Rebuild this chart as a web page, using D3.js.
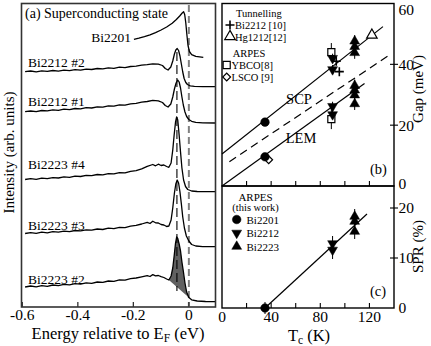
<!DOCTYPE html>
<html lang="en">
<head>
<meta charset="UTF-8">
<title>ARPES spectra, gap and SPR vs Tc</title>
<script src="https://d3js.org/d3.v7.min.js"></script>
<style>
  body { margin: 0; background: #fff; }
  svg { display: block; }
  svg text { font-family: "Liberation Serif", "Times New Roman", "DejaVu Serif", serif; }
</style>
</head>
<body>
<svg width="431" height="346" font-family="Liberation Serif, Times New Roman, DejaVu Serif, serif"></svg>
<script>
// ---------- panel (a): spectra [energy (eV), intensity (arb.)] ----------
const bi2201 = [[-0.198,26.77],[-0.18,26.88],[-0.16,27.04],[-0.14,27.22],[-0.12,27.44],[-0.10,27.70],[-0.08,28.00],
  [-0.06,28.38],[-0.045,28.75],[-0.033,29.10],[-0.024,29.40],[-0.019,29.52],[-0.015,29.25],[-0.011,28.40],
  [-0.007,27.20],[-0.003,26.15],[0.002,25.55],[0.01,25.24],[0.025,25.06],[0.052,24.96]];
const bi2212n2 = [[-0.59,23.53],[-0.57,23.60],[-0.55,23.51],[-0.53,23.62],[-0.51,23.56],[-0.49,23.65],[-0.47,23.58],
  [-0.45,23.68],[-0.43,23.64],[-0.41,23.74],[-0.39,23.69],[-0.37,23.78],[-0.35,23.75],[-0.33,23.85],[-0.31,23.81],
  [-0.29,23.91],[-0.27,23.87],[-0.25,23.98],[-0.23,23.94],[-0.21,24.05],[-0.19,24.09],[-0.17,24.18],[-0.15,24.24],
  [-0.13,24.32],[-0.11,24.28],[-0.095,24.15],[-0.085,23.85],[-0.075,23.70],[-0.065,24.00],[-0.058,24.60],
  [-0.052,25.30],[-0.047,25.70],[-0.042,25.85],[-0.037,25.65],[-0.032,25.10],[-0.027,24.30],[-0.022,23.50],
  [-0.017,22.85],[-0.011,22.45],[-0.005,22.25],[0.005,22.12],[0.02,22.06],[0.05,22.03],[0.095,22.03]];
const bi2212n1 = [[-0.59,19.53],[-0.57,19.60],[-0.55,19.54],[-0.53,19.65],[-0.51,19.61],[-0.49,19.71],[-0.47,19.67],
  [-0.45,19.78],[-0.43,19.74],[-0.41,19.85],[-0.39,19.81],[-0.37,19.93],[-0.35,19.90],[-0.33,20.02],[-0.31,19.99],
  [-0.29,20.11],[-0.27,20.08],[-0.25,20.21],[-0.23,20.19],[-0.21,20.32],[-0.19,20.37],[-0.17,20.48],[-0.15,20.55],
  [-0.13,20.66],[-0.11,20.62],[-0.095,20.45],[-0.085,20.15],[-0.075,20.00],[-0.065,20.30],[-0.058,21.00],
  [-0.052,21.80],[-0.046,22.40],[-0.040,22.70],[-0.035,22.50],[-0.030,21.90],[-0.025,21.00],[-0.020,20.20],
  [-0.014,19.50],[-0.008,19.05],[0.0,18.75],[0.01,18.57],[0.025,18.46],[0.05,18.42],[0.095,18.40]];
const bi2223n4 = [[-0.59,12.75],[-0.57,12.84],[-0.55,12.77],[-0.53,12.88],[-0.51,12.83],[-0.49,12.94],[-0.47,12.90],
  [-0.45,13.01],[-0.43,12.97],[-0.41,13.09],[-0.39,13.05],[-0.37,13.16],[-0.35,13.13],[-0.33,13.25],[-0.31,13.21],
  [-0.29,13.33],[-0.27,13.31],[-0.25,13.44],[-0.23,13.41],[-0.21,13.56],[-0.19,13.64],[-0.17,13.82],[-0.15,14.07],
  [-0.13,14.25],[-0.12,14.12],[-0.11,14.28],[-0.10,14.15],[-0.09,14.20],[-0.08,14.05],[-0.072,13.97],[-0.064,14.40],
  [-0.058,15.70],[-0.053,17.20],[-0.048,18.50],[-0.044,19.00],[-0.040,18.70],[-0.035,17.20],[-0.030,15.50],
  [-0.025,13.90],[-0.019,12.70],[-0.012,12.05],[-0.004,11.75],[0.01,11.60],[0.03,11.55],[0.06,11.53],[0.095,11.53]];
const bi2223n3 = [[-0.59,7.35],[-0.57,7.44],[-0.55,7.37],[-0.53,7.48],[-0.51,7.42],[-0.49,7.53],[-0.47,7.48],
  [-0.45,7.58],[-0.43,7.54],[-0.41,7.65],[-0.39,7.61],[-0.37,7.72],[-0.35,7.68],[-0.33,7.80],[-0.31,7.75],
  [-0.29,7.88],[-0.27,7.84],[-0.25,7.97],[-0.23,7.94],[-0.21,8.08],[-0.19,8.16],[-0.17,8.30],[-0.15,8.47],
  [-0.14,8.35],[-0.13,8.58],[-0.12,8.42],[-0.11,8.40],[-0.10,8.25],[-0.09,8.20],[-0.08,8.05],[-0.072,8.10],
  [-0.064,8.70],[-0.058,9.90],[-0.052,11.40],[-0.047,12.30],[-0.042,12.70],[-0.037,12.40],[-0.032,11.50],
  [-0.027,10.30],[-0.022,9.00],[-0.016,7.90],[-0.009,7.10],[0.0,6.60],[0.01,6.25],[0.025,6.10],[0.05,6.04],[0.095,6.03]];
const bi2223n2 = [[-0.59,2.00],[-0.57,2.10],[-0.55,2.02],[-0.53,2.14],[-0.51,2.07],[-0.49,2.20],[-0.47,2.14],
  [-0.45,2.26],[-0.43,2.21],[-0.41,2.33],[-0.39,2.28],[-0.37,2.41],[-0.35,2.37],[-0.33,2.50],[-0.31,2.46],
  [-0.29,2.60],[-0.27,2.57],[-0.25,2.71],[-0.23,2.69],[-0.21,2.83],[-0.19,2.90],[-0.17,3.02],[-0.15,3.14],
  [-0.14,3.05],[-0.13,3.24],[-0.12,3.12],[-0.11,3.15],[-0.10,3.04],[-0.09,2.95],[-0.08,2.80],[-0.072,2.70],
  [-0.064,3.10],[-0.058,3.90],[-0.053,5.10],[-0.048,6.40],[-0.044,7.00],[-0.040,6.85],[-0.035,6.30],[-0.030,5.60],
  [-0.025,4.50],[-0.020,3.60],[-0.014,2.40],[-0.008,1.50],[0.0,0.95],[0.01,0.72],[0.03,0.60],[0.06,0.55],[0.095,0.53]];
const energyTicks = [-0.6, -0.4, -0.2, 0];
const peakEnergy = -0.043;
const fillRange = [-0.072, 0.0];

// ---------- panels (b), (c): [Tc (K), value, error] ----------
const gapBi2201 = [[35, 21.0], [35, 9.6]];
const gapBi2212 = [[90, 42.0, 1.5], [90, 38.3, 1.5], [90, 26.2, 1.5], [90, 23.5, 1.5]];
const gapBi2223 = [[108, 47.6, 2], [108, 45.8, 2], [108, 43.8, 2], [108, 33.0, 2], [108, 31.5, 2], [108, 29.9, 2], [108, 27.0, 2]];
const gapTunBi2212 = [[93, 41.0], [95.5, 37.6]];
const gapTunHg1212 = [[122, 49.6]];
const gapYBCO = [[89, 44.0, 3.0], [89, 22.0, 3.3]];
const gapLSCO = [[38, 8.6]];
const sprBi2201 = [[35, 0, 1.2]];
const sprBi2212 = [[90, 12.9, 1.5], [90, 11.6, 1.8]];
const sprBi2223 = [[108, 18.3, 1.5], [108, 17.3, 1.5], [108, 15.3, 1.5]];
const scpFit = [[0, 10.5], [131, 52.4]];
const midFit = [[6, 8], [136, 43]];
const lemFit = [[0, 0], [116, 33.7]];
const sprFit = [[35, 0], [118, 18.8]];
const tcTicks = [0, 40, 80, 120];
const tcMinor = [20, 40, 60, 80, 100, 120];
const gapTicks = [0, 20, 40, 60];
const sprTicks = [0, 10, 20];

const svg = d3.select("svg");

// ================= panel (a) =================
const xA = d3.scaleLinear().domain([-0.603, 0.096]).range([21.5, 215.5]);
const yA = d3.scaleLinear().domain([0, 30.35]).range([307, 3.5]);
const lineA = d3.line().x(d => xA(d[0])).y(d => yA(d[1]));
const a = svg.append("g");

// shaded peak of Bi2223 #2
const fillPts = bi2223n2.filter(d => d[0] >= fillRange[0] && d[0] <= fillRange[1]);
a.append("path").attr("d", lineA(fillPts) + "Z").attr("fill", "#606060");

// E_F and peak position guides
a.append("line").attr("x1", xA(0)).attr("x2", xA(0)).attr("y1", 5).attr("y2", 306)
  .attr("stroke", "#808080").attr("stroke-width", 2).attr("stroke-dasharray", "7,4");
a.append("line").attr("x1", xA(peakEnergy)).attr("x2", xA(peakEnergy))
  .attr("y1", yA(25.5)).attr("y2", yA(1.6))
  .attr("stroke", "#000").attr("stroke-width", 1.1).attr("stroke-dasharray", "9,4");

const spectra = [
  {name: "Bi2201", data: bi2201},
  {name: "Bi2212 #2", data: bi2212n2, dy: -5},
  {name: "Bi2212 #1", data: bi2212n1, dy: -5.5},
  {name: "Bi2223 #4", data: bi2223n4, dy: -11},
  {name: "Bi2223 #3", data: bi2223n3, dy: -3.5},
  {name: "Bi2223 #2", data: bi2223n2, dy: -3.5}
];
spectra.forEach(s => {
  a.append("path").attr("d", lineA(s.data)).attr("fill", "none")
    .attr("stroke", "#000").attr("stroke-width", 1.3).attr("stroke-linejoin", "round");
  const first = s.data[0];
  if (s.name === "Bi2201") {
    a.append("text").attr("x", xA(first[0]) - 3).attr("y", yA(first[1]) + 3)
      .attr("text-anchor", "end").attr("font-size", 13.5).text(s.name);
  } else {
    a.append("text").attr("x", 28).attr("y", yA(first[1]) + s.dy)
      .attr("font-size", 13.5).text(s.name);
  }
});

a.append("rect").attr("x", 21.5).attr("y", 3.5).attr("width", 194).attr("height", 303.5)
  .attr("fill", "none").attr("stroke", "#333").attr("stroke-width", 1.6);
energyTicks.forEach(v => {
  a.append("line").attr("x1", xA(v)).attr("x2", xA(v)).attr("y1", 307).attr("y2", 302)
    .attr("stroke", "#333").attr("stroke-width", 1.3);
  a.append("text").attr("x", xA(v)).attr("y", 320).attr("text-anchor", "middle")
    .attr("font-size", 15.5).text(v === 0 ? "0" : v.toFixed(1));
});
a.append("text").attr("x", 25).attr("y", 18).attr("font-size", 14).text("(a) Superconducting state");
const xl = a.append("text").attr("x", 118).attr("y", 338.5).attr("text-anchor", "middle").attr("font-size", 16.5);
xl.append("tspan").text("Energy relative to E");
xl.append("tspan").attr("font-size", 11.5).attr("dy", 3).text("F");
xl.append("tspan").attr("dy", -3).text(" (eV)");
a.append("text").attr("transform", "translate(13.5,152.5) rotate(-90)").attr("text-anchor", "middle")
  .attr("font-size", 15).text("Intensity (arb. units)");

// ================= panels (b) and (c) =================
const xT = d3.scaleLinear().domain([0, 140]).range([222, 394]);
const yG = d3.scaleLinear().domain([0, 60]).range([186, 3.5]);
const yS = d3.scaleLinear().domain([0, 24.4]).range([308, 186]);
const b = svg.append("g");

function marker(g, kind, x, y) {
  if (kind === "plus") {
    g.append("path").attr("d", `M${x - 4.5},${y}H${x + 4.5}M${x},${y - 4.5}V${y + 4.5}`)
      .attr("stroke", "#000").attr("stroke-width", 1.6);
    return;
  }
  const def = {
    circle: [d3.symbolCircle, 58, 0, true],
    up: [d3.symbolTriangle, 42, 0, true],
    down: [d3.symbolTriangle, 42, 180, true],
    openUp: [d3.symbolTriangle, 48, 0, false],
    square: [d3.symbolSquare, 50, 0, false],
    diamond: [d3.symbolSquare, 30, 45, false]
  }[kind];
  g.append("path").attr("d", d3.symbol().type(def[0]).size(def[1])())
    .attr("transform", `translate(${x},${y}) rotate(${def[2]})`)
    .attr("fill", def[3] ? "#000" : "#fff").attr("stroke", "#000").attr("stroke-width", def[3] ? 0.5 : 1.2);
}
function series(g, data, yScale, kind) {
  data.forEach(d => {
    if (d[2]) {
      g.append("line").attr("x1", xT(d[0])).attr("x2", xT(d[0]))
        .attr("y1", yScale(d[1] - d[2])).attr("y2", yScale(d[1] + d[2]))
        .attr("stroke", "#000").attr("stroke-width", 1);
    }
  });
  data.forEach(d => marker(g, kind, xT(d[0]), yScale(d[1])));
}
function fit(g, pts, yScale, dash) {
  g.append("path").attr("d", d3.line().x(d => xT(d[0])).y(d => yScale(d[1]))(pts))
    .attr("fill", "none").attr("stroke", "#000").attr("stroke-width", 1.2)
    .attr("stroke-dasharray", dash || null);
}

// fits
fit(b, scpFit, yG);
fit(b, midFit, yG, "8,5");
fit(b, lemFit, yG);
fit(b, sprFit, yS);

// gap points
series(b, gapYBCO, yG, "square");
series(b, gapLSCO, yG, "diamond");
series(b, gapBi2201, yG, "circle");
series(b, gapBi2212, yG, "down");
series(b, gapBi2223, yG, "up");
series(b, gapTunBi2212, yG, "plus");
series(b, gapTunHg1212, yG, "openUp");
// SPR points
series(b, sprBi2201, yS, "circle");
series(b, sprBi2212, yS, "down");
series(b, sprBi2223, yS, "up");

// frames
b.append("rect").attr("x", 222).attr("y", 3.5).attr("width", 172).attr("height", 182.5)
  .attr("fill", "none").attr("stroke", "#000").attr("stroke-width", 1.4);
b.append("rect").attr("x", 222).attr("y", 186).attr("width", 172).attr("height", 122)
  .attr("fill", "none").attr("stroke", "#000").attr("stroke-width", 1.4);

// bottom ticks (inside) for both panels
[yG(0), yS(0)].forEach(y0 => {
  tcMinor.forEach(v => {
    b.append("line").attr("x1", xT(v)).attr("x2", xT(v)).attr("y1", y0).attr("y2", y0 - 5)
      .attr("stroke", "#000").attr("stroke-width", 1.1);
  });
});
tcTicks.forEach(v => {
  b.append("text").attr("x", xT(v)).attr("y", 322).attr("text-anchor", "middle")
    .attr("font-size", 15.5).text(v);
});
const tl = b.append("text").attr("x", 309).attr("y", 341).attr("text-anchor", "middle").attr("font-size", 16.5);
tl.append("tspan").text("T");
tl.append("tspan").attr("font-size", 11.5).attr("dy", 3).text("c");
tl.append("tspan").attr("dy", -3).text(" (K)");

// right axes
gapTicks.forEach(v => {
  if (v > 0 && v < 60) {
    b.append("line").attr("x1", 390).attr("x2", 398).attr("y1", yG(v)).attr("y2", yG(v))
      .attr("stroke", "#000").attr("stroke-width", 1.1);
  }
  b.append("text").attr("x", 398.5).attr("y", Math.max(yG(v), 10) - (v === 0 ? 2 : 0))
    .attr("dy", "0.35em").attr("font-size", 15.5).text(v);
});
sprTicks.forEach(v => {
  if (v > 0) {
    b.append("line").attr("x1", 390).attr("x2", 398).attr("y1", yS(v)).attr("y2", yS(v))
      .attr("stroke", "#000").attr("stroke-width", 1.1);
  }
  b.append("text").attr("x", 398.5).attr("y", yS(v)).attr("dy", "0.35em").attr("font-size", 15.5).text(v);
});
b.append("text").attr("transform", "translate(423,89) rotate(-90)").attr("text-anchor", "middle")
  .attr("font-size", 15).text("Gap (meV)");
b.append("text").attr("transform", "translate(423,246.5) rotate(-90)").attr("text-anchor", "middle")
  .attr("font-size", 15).text("SPR (%)");

// in-panel labels
b.append("text").attr("x", 299).attr("y", 103.5).attr("text-anchor", "middle").attr("font-size", 14.5).text("SCP");
b.append("text").attr("x", 301).attr("y", 142.5).attr("text-anchor", "middle").attr("font-size", 14.5).text("LEM");
b.append("text").attr("x", 370).attr("y", 174).attr("font-size", 14.5).text("(b)");
b.append("text").attr("x", 370).attr("y", 296).attr("font-size", 14.5).text("(c)");

// legend (b)
b.append("text").attr("x", 236).attr("y", 17.3).attr("font-size", 10.5).text("Tunnelling");
marker(b, "plus", 230, 25);
b.append("text").attr("x", 235).attr("y", 29).attr("font-size", 10.5).text("Bi2212 [10]");
marker(b, "openUp", 230, 36.5);
b.append("text").attr("x", 235).attr("y", 40.5).attr("font-size", 10.5).text("Hg1212[12]");
b.append("text").attr("x", 249).attr("y", 57).attr("text-anchor", "middle").attr("font-size", 10.5).text("ARPES");
marker(b, "square", 226.7, 65);
b.append("text").attr("x", 231.5).attr("y", 69).attr("font-size", 10.5).text("YBCO[8]");
marker(b, "diamond", 226.7, 77);
b.append("text").attr("x", 231.5).attr("y", 81).attr("font-size", 10.5).text("LSCO [9]");

// legend (c)
b.append("text").attr("x", 255.5).attr("y", 201).attr("text-anchor", "middle").attr("font-size", 11).text("ARPES");
b.append("text").attr("x", 255.5).attr("y", 211).attr("text-anchor", "middle").attr("font-size", 10.5).text("(this work)");
[["circle", "Bi2201", 219.5], ["down", "Bi2212", 233], ["up", "Bi2223", 246.5]].forEach(r => {
  marker(b, r[0], 236.7, r[2]);
  b.append("text").attr("x", 246.5).attr("y", r[2] + 4.2).attr("font-size", 11).text(r[1]);
});
</script>
</body>
</html>
